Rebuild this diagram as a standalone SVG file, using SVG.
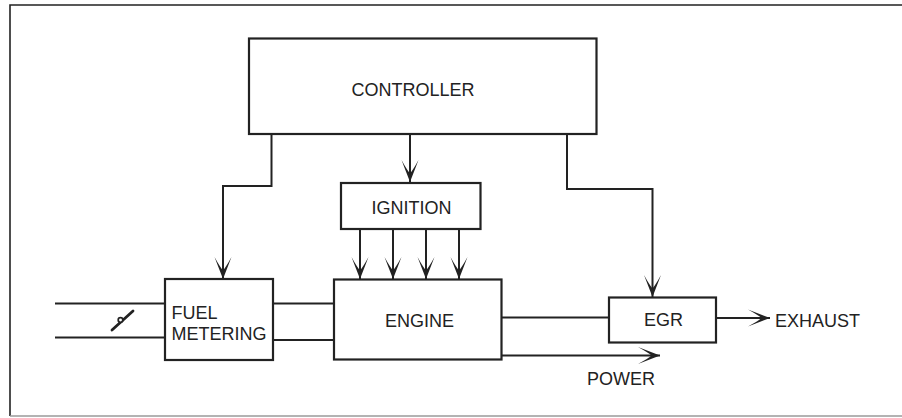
<svg xmlns="http://www.w3.org/2000/svg" width="902" height="418" viewBox="0 0 902 418">
  <style>
    .box { fill: #ffffff; stroke: #222222; stroke-width: 2.2; }
    .ln { fill: none; stroke: #222222; stroke-width: 2; }
    .lbl { font-family: "Liberation Sans", Arial, sans-serif; font-size: 18px; fill: #222222; }
  </style>
  <defs>
    <marker id="arr" viewBox="-23 -10 24 20" refX="0" refY="0" markerWidth="24" markerHeight="20" markerUnits="userSpaceOnUse" orient="auto">
      <path d="M0,0 L-22,-8.5 Q-12,-3 -8.5,0 Q-12,3 -22,8.5 Z" fill="#222222"/>
    </marker>
  </defs>
  <rect width="902" height="418" fill="#ffffff"/>
  <g id="frame">
    <path d="M10,416 V5 H902" fill="none" stroke="#222222" stroke-width="1.6"/>
    <line x1="10" y1="416" x2="902" y2="416" stroke="#9a9a9a" stroke-width="1.6"/>
  </g>
  <g id="connectors">
    <path class="ln" d="M271.5,134 V186 H223 V279" marker-end="url(#arr)"/>
    <path class="ln" d="M410,134 V182" marker-end="url(#arr)"/>
    <path class="ln" d="M567,134 V189 H652.5 V297" marker-end="url(#arr)"/>
    <path class="ln" d="M360,229 V279" marker-end="url(#arr)"/>
    <path class="ln" d="M393,229 V279" marker-end="url(#arr)"/>
    <path class="ln" d="M426,229 V279" marker-end="url(#arr)"/>
    <path class="ln" d="M459,229 V279" marker-end="url(#arr)"/>
    <path class="ln" d="M55,303.5 H165"/>
    <path class="ln" d="M55,337.5 H165"/>
    <path class="ln" d="M273,303.5 H334"/>
    <path class="ln" d="M273,340 H334"/>
    <path class="ln" d="M502,317.5 H609" stroke-width="3"/>
    <path class="ln" d="M716,318 H770" marker-end="url(#arr)"/>
    <path class="ln" d="M502,355.5 H660" marker-end="url(#arr)"/>
  </g>
  <g id="throttle">
    <line x1="112" y1="330" x2="133" y2="311" stroke="#222222" stroke-width="2.8" stroke-linecap="round"/>
    <circle cx="120.5" cy="320" r="2.3" fill="#ffffff" stroke="#222222" stroke-width="1.7"/>
  </g>
  <g id="controller">
    <rect class="box" x="249" y="38.5" width="347.5" height="95.5"/>
    <text class="lbl" x="351.5" y="95.5">CONTROLLER</text>
  </g>
  <g id="ignition">
    <rect class="box" x="341" y="183" width="139.5" height="46"/>
    <text class="lbl" x="371.5" y="214">IGNITION</text>
  </g>
  <g id="fuel-metering">
    <rect class="box" x="165" y="279" width="108" height="81"/>
    <text class="lbl" x="171.5" y="319">FUEL</text>
    <text class="lbl" x="171.5" y="340">METERING</text>
  </g>
  <g id="engine">
    <rect class="box" x="334" y="279.5" width="167.5" height="80"/>
    <text class="lbl" x="385" y="326.5">ENGINE</text>
  </g>
  <g id="egr">
    <rect class="box" x="609" y="297.5" width="107" height="45"/>
    <text class="lbl" x="644" y="325.5">EGR</text>
  </g>
  <g id="exhaust">
    <text class="lbl" x="775" y="326.5">EXHAUST</text>
  </g>
  <g id="power">
    <text class="lbl" x="587" y="385">POWER</text>
  </g>
</svg>
